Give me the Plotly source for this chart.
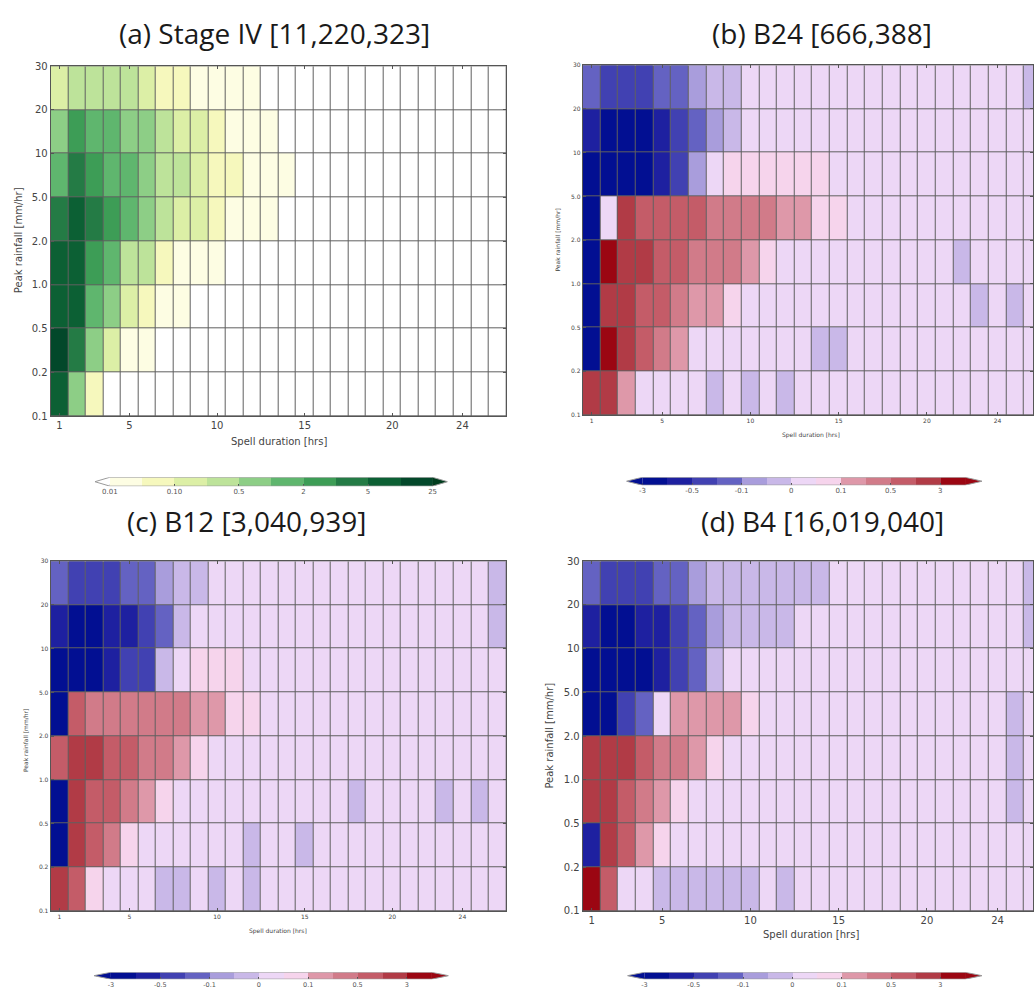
import numpy as np
import plotly.graph_objects as go

W, H = 1034, 998

# ---------------------------------------------------------------- data
DURATION_HRS = [1, 2, 3, 4, 5, 6, 7, 8, 9, 10, 11, 12, 13,
                14, 15, 16, 17, 18, 19, 20, 21, 22, 23, 24, 25, 26]
X_TICKS = [1, 5, 10, 15, 20, 24]
PEAK_EDGE_LABELS = ["0.1", "0.2", "0.5", "1.0", "2.0", "5.0", "10", "20", "30"]

# frequency levels (%) for the Stage IV panel
FREQ_BOUNDS = [0.01, 0.05, 0.10, 0.25, 0.5, 1, 2, 3.5, 5, 10, 25]
FREQ_TICK_IDX = [0, 2, 4, 6, 8, 10]
FREQ_TICK_TEXT = ["0.01", "0.10", "0.5", "2", "5", "25"]
FREQ_COLORS = ["#ffffff",                       # below 0.01
               "#fdfde3", "#f6f8bd", "#dcefa6", "#bde39a", "#8dce86",
               "#5fb66e", "#3d9d56", "#247b45", "#0c6034", "#03482a",
               "#003d1e"]                       # above 25

# difference levels for the model panels
DIFF_BOUNDS = [-3, -1, -0.5, -0.25, -0.1, -0.05, 0, 0.05, 0.1, 0.25, 0.5, 1, 3, 10]
DIFF_TICK_IDX = [0, 2, 4, 6, 8, 10, 12]
DIFF_TICK_TEXT = ["-3", "-0.5", "-0.1", "0", "0.1", "0.5", "3"]
DIFF_COLORS = ["#020f92",                       # below -3
               "#020f92", "#1e20a0", "#4141b2", "#6462c2", "#a99ddc",
               "#c9b8e8", "#edd7f6", "#f6d4ec", "#de98a9", "#d17b89",
               "#c45c68", "#b13b46", "#9b0612",
               "#9b0612"]                       # above 10

# rows run from the lowest peak-rainfall bin (0.1-0.2) to the highest (20-30)
STAGE_IV = [
    [7, 0.7, 0.07, 0, 0, 0, 0, 0, 0, 0, 0, 0, 0, 0, 0, 0, 0, 0, 0, 0, 0, 0, 0, 0, 0, 0],
    [15, 4, 0.7, 0.2, 0.03, 0.03, 0, 0, 0, 0, 0, 0, 0, 0, 0, 0, 0, 0, 0, 0, 0, 0, 0, 0, 0, 0],
    [7, 7, 1.5, 0.7, 0.2, 0.07, 0.03, 0.03, 0, 0, 0, 0, 0, 0, 0, 0, 0, 0, 0, 0, 0, 0, 0, 0, 0, 0],
    [7, 7, 3, 1.5, 0.4, 0.4, 0.07, 0.03, 0.03, 0.03, 0, 0, 0, 0, 0, 0, 0, 0, 0, 0, 0, 0, 0, 0, 0, 0],
    [4, 7, 4, 3, 1.5, 0.7, 0.4, 0.2, 0.2, 0.07, 0.03, 0.03, 0.03, 0, 0, 0, 0, 0, 0, 0, 0, 0, 0, 0, 0, 0],
    [1.5, 4, 3, 1.5, 1.5, 0.7, 0.4, 0.4, 0.2, 0.07, 0.07, 0.03, 0.03, 0.03, 0, 0, 0, 0, 0, 0, 0, 0, 0, 0, 0, 0],
    [0.7, 3, 1.5, 1.5, 0.7, 0.7, 0.4, 0.2, 0.2, 0.07, 0.03, 0.03, 0.03, 0, 0, 0, 0, 0, 0, 0, 0, 0, 0, 0, 0, 0],
    [0.2, 0.4, 0.4, 0.4, 0.4, 0.2, 0.07, 0.07, 0.03, 0.03, 0.03, 0.03, 0, 0, 0, 0, 0, 0, 0, 0, 0, 0, 0, 0, 0, 0],
]

B24 = [
    [2, 2, 0.2, 0.02, 0.02, 0.02, 0.02, -0.03, 0.02, -0.03, 0.02, -0.03, 0.02,
     0.02, 0.02, 0.02, 0.02, 0.02, 0.02, 0.02, 0.02, 0.02, 0.02, 0.02, 0.02, 0.02],
    [-2, 5, 2, 0.7, 0.4, 0.2, 0.02, 0.02, 0.02, 0.02, 0.02, 0.02, 0.02,
     -0.03, -0.03, 0.02, 0.02, 0.02, 0.02, 0.02, 0.02, 0.02, 0.02, 0.02, 0.02, 0.02],
    [-2, 2, 2, 0.7, 0.7, 0.4, 0.2, 0.2, 0.07, 0.02, 0.02, 0.02, 0.02,
     0.02, 0.02, 0.02, 0.02, 0.02, 0.02, 0.02, 0.02, 0.02, -0.03, 0.02, -0.03, 0.02],
    [-2, 5, 2, 2, 0.7, 0.7, 0.4, 0.4, 0.4, 0.2, 0.07, 0.02, 0.02,
     0.02, 0.02, 0.02, 0.02, 0.02, 0.02, 0.02, 0.02, -0.03, 0.02, 0.02, 0.02, 0.02],
    [-2, 0.02, 2, 0.7, 0.7, 0.7, 0.7, 0.4, 0.4, 0.4, 0.4, 0.2, 0.2,
     0.07, 0.07, 0.02, 0.02, 0.02, 0.02, 0.02, 0.02, 0.02, 0.02, 0.02, 0.02, 0.02],
    [-2, -2, -2, -2, -0.7, -0.4, -0.07, 0.02, 0.07, 0.07, 0.07, 0.07, 0.07,
     0.07, 0.02, 0.02, 0.02, 0.02, 0.02, 0.02, 0.02, 0.02, 0.02, 0.02, 0.02, 0.02],
    [-0.7, -2, -2, -2, -0.7, -0.4, -0.2, -0.07, -0.03, 0.02, 0.02, 0.02, 0.02,
     0.02, 0.02, 0.02, 0.02, 0.02, 0.02, 0.02, 0.02, 0.02, 0.02, 0.02, 0.02, 0.02],
    [-0.2, -0.4, -0.4, -0.4, -0.2, -0.2, -0.07, -0.03, -0.03, 0.02, 0.02, 0.02, 0.02,
     0.02, 0.02, 0.02, 0.02, 0.02, 0.02, 0.02, 0.02, 0.02, 0.02, 0.02, 0.02, -0.03],
]

B12 = [
    [2, 0.7, 0.07, 0.02, 0.02, 0.02, -0.03, -0.03, 0.02, -0.03, 0.02, -0.03, 0.02,
     0.02, 0.02, 0.02, 0.02, 0.02, 0.02, 0.02, 0.02, 0.02, 0.02, 0.02, 0.02, 0.02],
    [-2, 2, 0.7, 0.4, 0.07, 0.02, 0.02, 0.02, 0.02, 0.02, 0.02, -0.03, 0.02,
     0.02, -0.03, 0.02, 0.02, 0.02, 0.02, 0.02, 0.02, 0.02, 0.02, 0.02, 0.02, 0.02],
    [-2, 2, 0.7, 0.7, 0.4, 0.2, 0.07, 0.02, 0.02, 0.02, 0.02, 0.02, 0.02,
     0.02, 0.02, 0.02, 0.02, -0.03, 0.02, 0.02, 0.02, 0.02, -0.03, 0.02, -0.03, 0.02],
    [0.7, 2, 2, 0.7, 0.7, 0.4, 0.4, 0.2, 0.07, 0.02, 0.02, 0.02, 0.02,
     0.02, 0.02, 0.02, 0.02, 0.02, 0.02, 0.02, 0.02, 0.02, 0.02, 0.02, 0.02, 0.02],
    [-2, 0.7, 0.4, 0.4, 0.4, 0.4, 0.4, 0.4, 0.2, 0.2, 0.07, 0.07, 0.02,
     0.02, 0.02, 0.02, 0.02, 0.02, 0.02, 0.02, 0.02, 0.02, 0.02, 0.02, 0.02, 0.02],
    [-2, -2, -2, -0.7, -0.4, -0.4, -0.03, 0.02, 0.07, 0.07, 0.07, 0.02, 0.02,
     0.02, 0.02, 0.02, 0.02, 0.02, 0.02, 0.02, 0.02, 0.02, 0.02, 0.02, 0.02, 0.02],
    [-0.7, -2, -2, -0.7, -0.7, -0.4, -0.2, -0.03, 0.02, 0.02, 0.02, 0.02, 0.02,
     0.02, 0.02, 0.02, 0.02, 0.02, 0.02, 0.02, 0.02, 0.02, 0.02, 0.02, 0.02, -0.03],
    [-0.2, -0.4, -0.4, -0.4, -0.2, -0.2, -0.07, -0.03, -0.03, 0.02, 0.02, 0.02, 0.02,
     0.02, 0.02, 0.02, 0.02, 0.02, 0.02, 0.02, 0.02, 0.02, 0.02, 0.02, 0.02, -0.03],
]

B4 = [
    [5, 0.7, 0.02, 0.02, -0.03, -0.03, -0.03, -0.03, -0.03, -0.03, 0.02, -0.03, 0.02,
     0.02, 0.02, 0.02, 0.02, 0.02, 0.02, 0.02, 0.02, 0.02, 0.02, 0.02, 0.02, 0.02],
    [-0.7, 2, 0.7, 0.2, 0.07, 0.02, 0.02, 0.02, 0.02, 0.02, 0.02, 0.02, 0.02,
     0.02, 0.02, 0.02, 0.02, 0.02, 0.02, 0.02, 0.02, 0.02, 0.02, 0.02, 0.02, 0.02],
    [2, 2, 0.7, 0.4, 0.2, 0.07, 0.02, 0.02, 0.02, 0.02, 0.02, 0.02, 0.02,
     0.02, 0.02, 0.02, 0.02, 0.02, 0.02, 0.02, 0.02, 0.02, 0.02, 0.02, -0.03, 0.02],
    [2, 2, 2, 0.7, 0.4, 0.4, 0.2, 0.07, 0.02, 0.02, 0.02, 0.02, 0.02,
     0.02, 0.02, 0.02, 0.02, 0.02, 0.02, 0.02, 0.02, 0.02, 0.02, 0.02, -0.03, 0.02],
    [-2, -2, -0.4, -0.2, 0.02, 0.2, 0.2, 0.2, 0.2, 0.07, 0.02, 0.02, 0.02,
     0.02, 0.02, 0.02, 0.02, 0.02, 0.02, 0.02, 0.02, 0.02, 0.02, 0.02, -0.03, 0.02],
    [-2, -2, -2, -2, -0.7, -0.4, -0.2, -0.03, 0.02, 0.02, 0.02, 0.02, 0.02,
     0.02, 0.02, 0.02, 0.02, 0.02, 0.02, 0.02, 0.02, 0.02, 0.02, 0.02, 0.02, 0.02],
    [-0.7, -2, -2, -0.7, -0.7, -0.4, -0.2, -0.07, -0.03, -0.03, -0.03, -0.03, 0.02,
     0.02, 0.02, 0.02, 0.02, 0.02, 0.02, 0.02, 0.02, 0.02, 0.02, 0.02, 0.02, -0.03],
    [-0.2, -0.4, -0.4, -0.4, -0.2, -0.2, -0.07, -0.03, -0.03, -0.03, -0.03, -0.03, -0.03,
     -0.03, 0.02, 0.02, 0.02, 0.02, 0.02, 0.02, 0.02, 0.02, 0.02, 0.02, 0.02, -0.03],
]

# ---------------------------------------------------------------- helpers
def px_x(p):
    return p / W


def px_y(p):
    return 1 - p / H


def stepped_scale(colors):
    k = len(colors)
    scale = []
    for i, c in enumerate(colors):
        scale.append([i / k, c])
        scale.append([(i + 1) / k, c])
    return scale


def ax_name(i, letter):
    return f"{letter}axis" if i == 1 else f"{letter}axis{i}"


def ax_ref(i, letter):
    return letter if i == 1 else f"{letter}{i}"


TEXT = "#444444"
FONT = "DejaVu Sans"
GRID = "#606060"

panels = [
    dict(data=STAGE_IV, bounds=FREQ_BOUNDS, colors=FREQ_COLORS,
         xd=(50.7, 506.7), yd=(61, 415), xmax=26.5, fs=10,
         title="(a) Stage IV [11,220,323]", tpos=(275, 27),
         xlab=(279, 441), ylab=(18, 237)),
    dict(data=B24, bounds=DIFF_BOUNDS, colors=DIFF_COLORS,
         xd=(583.3, 1034), yd=(60, 414), xmax=26.01, fs=6,
         title="(b) B24 [666,388]", tpos=(823, 27),
         xlab=(812, 434), ylab=(558, 237)),
    dict(data=B12, bounds=DIFF_BOUNDS, colors=DIFF_COLORS,
         xd=(50.7, 506.7), yd=(562, 916), xmax=26.5, fs=6,
         title="(c) B12 [3,040,939]", tpos=(247, 521),
         xlab=(278, 936), ylab=(25, 743)),
    dict(data=B4, bounds=DIFF_BOUNDS, colors=DIFF_COLORS,
         xd=(583.3, 1034), yd=(562, 916), xmax=26.01, fs=10,
         title="(d) B4 [16,019,040]", tpos=(823, 521),
         xlab=(812, 940), ylab=(550, 738)),
]

# colour bars: tip-left, inner-left, inner-right, tip-right, top, bottom (px)
bars = [
    dict(bounds=FREQ_BOUNDS, colors=FREQ_COLORS, idx=FREQ_TICK_IDX, text=FREQ_TICK_TEXT,
         geom=(95, 110, 433, 448, 477, 486), fs=7),
    dict(bounds=DIFF_BOUNDS, colors=DIFF_COLORS, idx=DIFF_TICK_IDX, text=DIFF_TICK_TEXT,
         geom=(627, 643, 966, 983, 477, 485), fs=7),
    dict(bounds=DIFF_BOUNDS, colors=DIFF_COLORS, idx=DIFF_TICK_IDX, text=DIFF_TICK_TEXT,
         geom=(94, 111, 432, 449, 978, 985), fs=6.5),
    dict(bounds=DIFF_BOUNDS, colors=DIFF_COLORS, idx=DIFF_TICK_IDX, text=DIFF_TICK_TEXT,
         geom=(628, 645, 966, 983, 978, 985), fs=6.5),
]

fig = go.Figure()
shapes = []
annotations = []
layout = {}

row_centres = [i + 0.5 for i in range(len(PEAK_EDGE_LABELS) - 1)]

for n, p in enumerate(panels, start=1):
    levels = np.digitize(np.array(p["data"], dtype=float), p["bounds"])
    k = len(p["colors"])
    fig.add_trace(go.Heatmap(
        x=DURATION_HRS, y=row_centres, z=levels,
        colorscale=stepped_scale(p["colors"]), zmin=-0.5, zmax=k - 0.5,
        showscale=False, xgap=1, ygap=1, hoverinfo="skip",
        xaxis=ax_ref(n, "x"), yaxis=ax_ref(n, "y"),
    ))
    tick_font = dict(family=FONT, size=p["fs"], color=TEXT)
    layout[ax_name(n, "x")] = dict(
        domain=[px_x(p["xd"][0]), px_x(p["xd"][1])], range=[0.5, p["xmax"]],
        anchor=ax_ref(n, "y"), tickmode="array", tickvals=X_TICKS,
        ticktext=[str(v) for v in X_TICKS], ticks="inside", ticklen=3,
        tickcolor="#555555", showline=True, mirror="ticks", linecolor="#555555",
        linewidth=1, showgrid=False, zeroline=False, tickfont=tick_font,
        fixedrange=True,
    )
    layout[ax_name(n, "y")] = dict(
        domain=[px_y(p["yd"][1]), px_y(p["yd"][0])], range=[0, 8],
        anchor=ax_ref(n, "x"), tickmode="array",
        tickvals=list(range(len(PEAK_EDGE_LABELS))), ticktext=PEAK_EDGE_LABELS,
        ticks="inside", ticklen=3, tickcolor="#555555", showline=True,
        mirror="ticks", linecolor="#555555", linewidth=1, showgrid=False,
        zeroline=False, tickfont=tick_font, fixedrange=True,
    )
    # grey backing shows through the cell gaps as the cell edges
    shapes.append(dict(type="rect", xref=f"{ax_ref(n, 'x')} domain",
                       yref=f"{ax_ref(n, 'y')} domain", x0=0, x1=1, y0=0, y1=1,
                       fillcolor=GRID, line=dict(width=0), layer="below"))
    annotations.append(dict(text=p["title"], x=px_x(p["tpos"][0]), y=px_y(p["tpos"][1]),
                            xref="paper", yref="paper", showarrow=False,
                            xanchor="center", yanchor="middle",
                            font=dict(family="Open Sans", size=28, color="#1a1a1a")))
    annotations.append(dict(text="Spell duration [hrs]", x=px_x(p["xlab"][0]),
                            y=px_y(p["xlab"][1]), xref="paper", yref="paper",
                            showarrow=False, xanchor="center", yanchor="middle",
                            font=dict(family=FONT, size=p["fs"], color=TEXT)))
    annotations.append(dict(text="Peak rainfall [mm/hr]", x=px_x(p["ylab"][0]),
                            y=px_y(p["ylab"][1]), xref="paper", yref="paper",
                            showarrow=False, xanchor="center", yanchor="middle",
                            textangle=-90,
                            font=dict(family=FONT, size=p["fs"], color=TEXT)))

for j, b in enumerate(bars, start=5):
    tipl, inl, inr, tipr, top, bot = b["geom"]
    nseg = len(b["bounds"]) - 1
    seg = (inr - inl) / nseg
    ext_l = (inl - tipl) / seg
    ext_r = (tipr - inr) / seg
    k = len(b["colors"])
    fig.add_trace(go.Heatmap(
        x=[i + 0.5 for i in range(nseg)], y=[0], z=[list(range(1, nseg + 1))],
        colorscale=stepped_scale(b["colors"]), zmin=-0.5, zmax=k - 0.5,
        showscale=False, hoverinfo="skip",
        xaxis=ax_ref(j, "x"), yaxis=ax_ref(j, "y"),
    ))
    layout[ax_name(j, "x")] = dict(
        domain=[px_x(tipl), px_x(tipr)], range=[-ext_l, nseg + ext_r],
        anchor=ax_ref(j, "y"), tickmode="array", tickvals=b["idx"], ticktext=b["text"],
        ticks="inside", ticklen=2, tickcolor="#555555", showline=False,
        showgrid=False, zeroline=False, fixedrange=True,
        tickfont=dict(family=FONT, size=b["fs"], color="#555555"),
    )
    layout[ax_name(j, "y")] = dict(
        domain=[px_y(bot), px_y(top)], range=[-0.5, 0.5], anchor=ax_ref(j, "x"),
        visible=False, fixedrange=True,
    )
    xr, yr = ax_ref(j, "x"), ax_ref(j, "y")
    # extension triangles for values beyond the first and last level
    shapes.append(dict(type="path", xref=xr, yref=yr,
                       path=f"M 0,-0.5 L {-ext_l},0 L 0,0.5 Z",
                       fillcolor=b["colors"][0], line=dict(width=0)))
    shapes.append(dict(type="path", xref=xr, yref=yr,
                       path=f"M {nseg},-0.5 L {nseg + ext_r},0 L {nseg},0.5 Z",
                       fillcolor=b["colors"][-1], line=dict(width=0)))
    shapes.append(dict(type="path", xref=xr, yref=yr,
                       path=(f"M {-ext_l},0 L 0,0.5 L {nseg},0.5 L {nseg + ext_r},0 "
                             f"L {nseg},-0.5 L 0,-0.5 Z"),
                       line=dict(color="#9a9a9a", width=1)))

fig.update_layout(
    width=W, height=H, autosize=False,
    margin=dict(l=0, r=0, t=0, b=0),
    paper_bgcolor="white", plot_bgcolor="white",
    showlegend=False, shapes=shapes, annotations=annotations,
    **layout,
)

fig.write_html("out.html")
